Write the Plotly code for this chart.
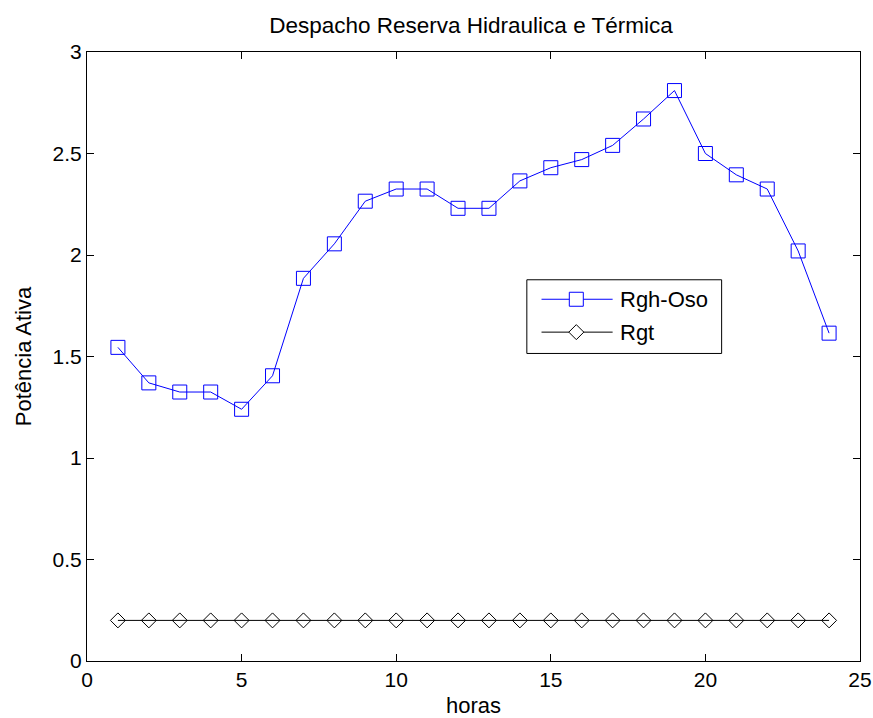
import plotly.graph_objects as go

# Hourly reserve dispatch
horas = list(range(1, 25))
rgh_oso = [1.545, 1.37, 1.325, 1.325, 1.24, 1.405, 1.885, 2.055, 2.265, 2.325,
           2.325, 2.23, 2.23, 2.365, 2.43, 2.47, 2.54, 2.67, 2.81, 2.50,
           2.395, 2.325, 2.02, 1.615]
rgt = [0.2] * 24

series_names = ["Rgh-Oso", "Rgt"]
x_ticks = [0, 5, 10, 15, 20, 25]
y_ticks = [0, 0.5, 1, 1.5, 2, 2.5, 3]

FONT = "Liberation Sans, Arial, sans-serif"
BLUE = "rgb(0,0,255)"
BLACK = "rgb(0,0,0)"

fig = go.Figure()

fig.add_trace(go.Scatter(
    x=horas, y=rgh_oso, mode="lines+markers", name=series_names[0],
    line=dict(color=BLUE, width=1),
    marker=dict(symbol="square-open", size=14, color=BLUE),
    showlegend=False,
))
fig.add_trace(go.Scatter(
    x=horas, y=rgt, mode="lines+markers", name=series_names[1],
    line=dict(color=BLACK, width=1),
    marker=dict(symbol="diamond-open", size=11.5, color=BLACK),
    showlegend=False,
))

# Boxed legend inside the plot area, built from shapes and annotations
box_x0, box_x1 = 0.569, 0.821
box_y0, box_y1 = 0.505, 0.626
rows_y = [0.594, 0.540]
line_x0, line_x1 = 0.588, 0.680
key_x = 0.633
text_x = 0.687
key_colors = [BLUE, BLACK]
key_paths = [
    "M-7,-7 L7,-7 L7,7 L-7,7 Z",          # square
    "M0,-7.5 L7.5,0 L0,7.5 L-7.5,0 Z",    # diamond
]

fig.add_shape(type="rect", xref="paper", yref="paper",
              x0=box_x0, x1=box_x1, y0=box_y0, y1=box_y1,
              line=dict(color=BLACK, width=1), fillcolor="white", layer="above")
for name, yy, col, path in zip(series_names, rows_y, key_colors, key_paths):
    fig.add_shape(type="line", xref="paper", yref="paper",
                  x0=line_x0, x1=line_x1, y0=yy, y1=yy,
                  line=dict(color=col, width=1), layer="above")
    fig.add_shape(type="path", xref="paper", yref="paper",
                  xsizemode="pixel", ysizemode="pixel",
                  xanchor=key_x, yanchor=yy, path=path,
                  line=dict(color=col, width=1), fillcolor="white", layer="above")
    fig.add_annotation(x=text_x, y=yy, xref="paper", yref="paper",
                       text=name, showarrow=False, xanchor="left", yanchor="middle",
                       font=dict(family=FONT, size=22, color=BLACK))

axis_common = dict(
    showline=True, linecolor=BLACK, linewidth=1, mirror="ticks",
    ticks="inside", ticklen=7, tickwidth=1, tickcolor=BLACK,
    showgrid=False, zeroline=False, automargin=False,
    tickfont=dict(family=FONT, size=21, color=BLACK),
)

fig.update_layout(
    width=873, height=718,
    margin=dict(l=87, r=13, t=52, b=57),
    paper_bgcolor="white", plot_bgcolor="white",
    hovermode=False,
    title=dict(text="Despacho Reserva Hidraulica e Térmica",
               x=471 / 873, xanchor="center", y=1 - 25 / 718, yanchor="middle",
               font=dict(family=FONT, size=22.5, color=BLACK)),
    xaxis=dict(range=[0, 25], tickvals=x_ticks,
               title=dict(text="horas", standoff=20,
                          font=dict(family=FONT, size=22, color=BLACK)),
               **axis_common),
    yaxis=dict(range=[0, 3], tickvals=y_ticks,
               title=dict(text="Potência Ativa", standoff=14,
                          font=dict(family=FONT, size=22, color=BLACK)),
               **axis_common),
    showlegend=False,
)

fig.write_html("out.html", config={"displayModeBar": False})
